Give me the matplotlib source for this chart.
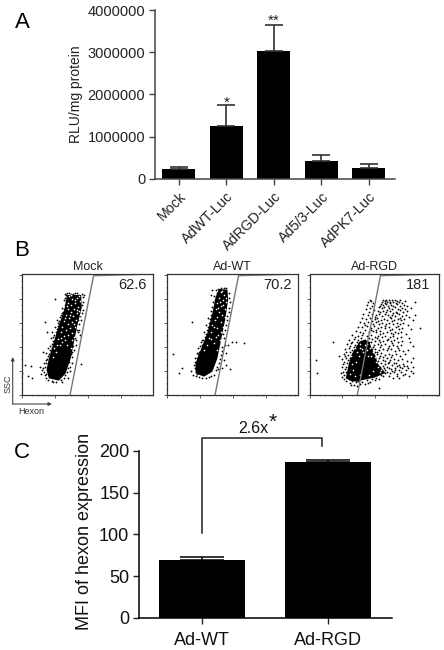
import numpy as np
from matplotlib import pyplot as plt

plt.rcParams["font.family"] = ["Liberation Sans", "DejaVu Sans"]

W, H = 444, 650

# panel A
a_labels = ["Mock", "AdWT-Luc", "AdRGD-Luc", "Ad5/3-Luc", "AdPK7-Luc"]
a_values = [230000, 1240000, 3030000, 410000, 265000]
a_err = [50000, 510000, 620000, 160000, 75000]
a_yticks = [0, 1000000, 2000000, 3000000, 4000000]

# panel C
c_labels = ["Ad-WT", "Ad-RGD"]
c_values = [69, 186]
c_err = [3.5, 2.5]
c_yticks = [0, 50, 100, 150, 200]

# panel B, channel units
b_titles = ["Mock", "Ad-WT", "Ad-RGD"]
b_numbers = ["62.6", "70.2", "181"]
gate_x = [143, 213, 390]
gate_y = [0, 358, 363]

mock_core = [(80, 50), (110, 43), (130, 65), (145, 110), (155, 160), (165, 210), (178, 262), (176, 300),
             (134, 300), (126, 255), (110, 210), (95, 160), (80, 110), (73, 75)]
mock_dots = [(10, 90), (28, 87), (1, 65), (17, 57), (31, 50), (177, 94), (67, 218), (98, 287), (138, 52), (75, 188),
             (62, 128), (68, 60), (60, 75), (55, 85), (65, 95), (72, 125), (78, 140), (85, 170), (90, 190), (98, 205),
             (105, 225), (115, 240), (120, 262), (125, 285), (128, 303), (140, 305), (152, 304), (165, 305), (178, 303),
             (183, 280), (182, 255), (175, 225), (170, 195), (162, 165), (155, 135), (150, 115), (142, 85), (135, 70),
             (125, 52), (118, 40), (100, 38), (88, 42), (70, 50), (66, 70), (70, 105), (76, 118), (84, 148), (92, 175),
             (100, 190), (108, 215), (118, 228), (122, 250), (128, 270), (186, 300), (172, 180), (160, 150), (148, 95),
             (69, 84), (72, 96), (75, 108), (71, 62), (77, 46), (84, 134), (88, 152), (91, 163), (96, 180), (103, 197),
             (106, 208), (111, 222), (113, 233), (119, 245), (124, 258), (127, 292), (131, 281), (130, 300), (135, 307),
             (146, 302), (158, 306), (171, 301), (181, 294), (180, 270), (179, 246), (173, 236), (169, 214), (166, 188),
             (158, 172), (152, 148), (149, 128), (140, 98), (137, 82), (128, 60), (116, 44), (92, 40), (64, 82), (58, 62),
             (80, 122), (88, 140), (83, 92), (163, 196), (168, 224), (142, 72), (145, 122)]
mock_gaps = [(140, 296), (150, 288), (163, 292), (172, 283), (138, 276), (147, 270), (158, 276), (168, 264), (136, 258),
             (146, 250), (155, 258), (165, 245), (172, 240), (130, 240), (140, 232), (152, 236), (160, 224), (126, 222),
             (136, 214), (148, 218), (158, 205), (120, 205), (130, 196), (142, 200), (150, 186), (115, 188), (124, 178),
             (138, 180), (148, 165), (108, 168), (118, 160), (134, 150), (105, 150), (145, 140), (100, 130), (92, 115),
             (145, 299), (157, 284), (169, 296), (133, 266), (163, 254), (143, 241), (170, 252), (128, 231), (154, 212),
             (115, 172), (129, 166), (154, 173), (112, 150), (96, 142)]

wt_core = [(85, 65), (110, 55), (135, 70), (150, 110), (160, 160), (173, 225), (182, 285), (180, 316),
           (155, 318), (145, 295), (135, 245), (120, 185), (100, 135), (85, 95)]
wt_dots = [(17, 123), (45, 80), (35, 65), (74, 218), (194, 158), (205, 159), (228, 155), (189, 78), (175, 90), (134, 315),
           (132, 300), (182, 150), (72, 73), (78, 60), (82, 80), (90, 110), (95, 130), (105, 150), (112, 175), (118, 195),
           (125, 215), (130, 240), (135, 265), (142, 285), (148, 305), (152, 318), (170, 320), (186, 305), (188, 280),
           (184, 250), (180, 225), (174, 195), (170, 170), (165, 145), (160, 120), (155, 95), (145, 75), (130, 58),
           (115, 50), (95, 55), (86, 58), (82, 100), (88, 125), (100, 160), (108, 165), (115, 210), (122, 230), (170, 105),
           (163, 80), (175, 125), (140, 60), (150, 85),
           (79, 90), (84, 112), (93, 140), (97, 148), (103, 165), (110, 188), (116, 182), (121, 205), (127, 228), (131, 252),
           (138, 278), (141, 298), (146, 315), (160, 321), (176, 322), (185, 292), (186, 262), (178, 238), (176, 210),
           (168, 182), (163, 132), (158, 108), (152, 78), (125, 55), (104, 52), (90, 62), (92, 122), (113, 160), (172, 150)]
wt_gaps = [(160, 308), (170, 300), (155, 292), (166, 285), (176, 278), (150, 275), (160, 268), (172, 258), (145, 258),
           (155, 250), (165, 240), (174, 235), (150, 235), (142, 225), (160, 218), (168, 205), (135, 210), (150, 200),
           (160, 190), (130, 190), (145, 175), (158, 165), (125, 170), (140, 155), (150, 135), (118, 150), (110, 135),
           (165, 312), (175, 292), (158, 280), (168, 271), (153, 262), (140, 203), (153, 180), (132, 168)]

rgd_core = [(108, 50), (125, 42), (140, 40), (165, 46), (195, 52), (228, 66), (214, 82), (204, 96), (198, 118), (188, 135),
            (180, 158), (165, 166), (150, 160), (135, 138), (124, 118), (116, 88)]
rgd_dots = [(17, 105), (20, 65), (70, 158), (87, 118),
            (180, 285), (184, 282), (222, 286), (230, 284), (238, 286), (247, 284), (256, 285), (262, 283), (271, 284),
            (176, 278), (190, 275), (218, 279), (226, 277), (233, 280), (241, 276), (252, 278), (259, 275), (268, 279), (279, 276), (288, 281), (316, 278),
            (172, 271), (186, 268), (214, 272), (221, 269), (229, 273), (236, 268), (244, 271), (250, 266), (263, 272), (273, 268), (283, 271), (292, 266),
            (182, 262), (168, 258), (209, 263), (217, 260), (225, 265), (239, 261), (247, 258), (256, 263), (266, 259), (277, 262), (286, 257), (305, 260),
            (178, 250), (192, 254), (205, 251), (213, 248), (222, 253), (231, 249), (243, 252), (252, 247), (260, 250), (271, 254), (281, 248), (294, 252), (318, 240),
            (160, 243), (174, 240), (188, 244), (200, 239), (209, 242), (218, 238), (227, 243), (236, 239), (248, 241), (258, 237), (268, 242), (279, 238), (289, 240), (300, 234),
            (156, 230), (168, 228), (182, 232), (195, 227), (204, 231), (214, 226), (223, 229), (234, 226), (245, 230), (254, 225), (265, 228), (275, 224), (285, 229), (312, 226),
            (150, 218), (163, 216), (176, 220), (190, 214), (199, 219), (210, 213), (219, 217), (230, 212), (240, 216), (252, 213), (262, 217), (272, 212), (282, 215), (296, 210),
            (146, 205), (158, 203), (171, 207), (184, 202), (194, 206), (205, 201), (215, 204), (226, 200), (238, 203), (249, 199), (259, 204), (270, 199), (279, 202), (305, 198),
            (140, 192), (152, 190), (165, 194), (178, 189), (189, 193), (200, 188), (211, 191), (222, 187), (233, 190), (245, 186), (256, 190), (266, 186), (276, 189), (291, 184), (332, 200),
            (128, 180), (146, 178), (158, 181), (172, 176), (184, 180), (195, 175), (206, 178), (217, 174), (228, 177), (241, 173), (252, 177), (263, 172), (274, 175), (298, 170),
            (118, 165), (132, 168), (144, 166), (186, 168), (198, 163), (210, 166), (221, 162), (232, 165), (244, 161), (255, 164), (267, 160), (278, 163), (302, 158),
            (112, 152), (124, 155), (136, 150), (194, 150), (205, 153), (216, 149), (228, 152), (240, 148), (251, 151), (262, 147), (274, 150), (310, 146),
            (105, 138), (118, 140), (128, 134), (198, 138), (209, 135), (220, 139), (232, 134), (245, 137), (256, 133), (268, 136), (280, 132), (296, 135),
            (102, 124), (114, 120), (204, 122), (215, 126), (226, 120), (238, 124), (249, 119), (260, 123), (272, 118), (288, 122), (312, 112),
            (98, 108), (108, 112), (208, 110), (220, 106), (232, 110), (243, 105), (255, 109), (266, 104), (278, 107), (292, 103), (306, 100),
            (100, 92), (106, 78), (214, 96), (226, 92), (237, 96), (248, 91), (259, 95), (270, 90), (281, 94), (294, 88), (310, 85),
            (100, 70), (104, 60), (224, 80), (234, 84), (245, 78), (256, 82), (268, 76), (279, 80), (290, 74), (304, 72),
            (102, 48), (98, 55), (232, 70), (242, 66), (253, 70), (264, 64), (275, 68), (286, 62), (300, 58), (312, 66),
            (110, 42), (120, 36), (132, 30), (150, 34), (165, 32), (180, 40), (195, 44), (208, 48), (220, 58), (238, 56), (252, 52), (270, 50), (208, 20),
            # second pass over the same cloud, thicker around the dense part
            (227, 281), (243, 279), (211, 266), (233, 256), (263, 246), (197, 235), (241, 234), (271, 232), (207, 222), (247, 221),
            (187, 221), (167, 209), (227, 208), (265, 207), (201, 196), (243, 195), (183, 195), (161, 186), (213, 184), (251, 183),
            (137, 174), (177, 171), (203, 170), (236, 169), (153, 170), (126, 160), (167, 165), (213, 158), (249, 156), (141, 158),
            (148, 155), (120, 147), (132, 143), (155, 163), (172, 161), (183, 158), (191, 144), (212, 143), (236, 142), (265, 142),
            (110, 130), (122, 128), (134, 128), (195, 130), (203, 128), (212, 118), (197, 112), (205, 102), (220, 114), (244, 113),
            (106, 118), (116, 105), (112, 95), (120, 112), (110, 84), (116, 70), (108, 68), (112, 58), (117, 48), (127, 42),
            (138, 38), (145, 42), (156, 40), (172, 44), (186, 48), (200, 52), (214, 60), (228, 65), (222, 88), (212, 84),
            (196, 98), (192, 110), (186, 138), (178, 160), (164, 160), (156, 150), (143, 142), (128, 118), (124, 102), (120, 80),
            (218, 76), (226, 74), (238, 82), (248, 72), (258, 74), (272, 84), (284, 86), (262, 88), (240, 100), (228, 102),
            (104, 100), (96, 84), (94, 66), (125, 30), (142, 26), (175, 36), (262, 56), (282, 60), (296, 80), (255, 96)]
rgd_gaps = [(125, 118), (135, 140), (150, 142), (165, 150), (180, 140), (195, 115), (205, 85), (215, 75), (130, 75), (120, 62),
            (142, 128), (172, 135), (160, 128), (185, 118), (150, 60), (190, 72), (178, 60), (138, 100),
            (152, 154), (172, 152), (190, 128), (158, 138), (148, 118), (176, 118), (200, 100), (212, 70), (128, 92), (135, 58)]

BOX = [(22, 153), (167, 298), (310, 439)]


def add_axes(left, right, top, bottom):
    return fig.add_axes([left / W, 1 - bottom / H, (right - left) / W, (bottom - top) / H])


def draw_dots(ax, core, dots, gaps, title, number):
    ax.fill(*zip(*core), color="black", lw=0)
    ax.scatter(*zip(*dots), s=1.7, color="black", lw=0)
    ax.scatter(*zip(*gaps), s=1.4, color="white", lw=0)
    ax.plot(gate_x, gate_y, color="#777777", lw=1.0)
    ax.plot(gate_x[1:], [gate_y[1] + 3, gate_y[2]], color="#999999", lw=0.8)
    ax.set_xlim(0, 390)
    ax.set_ylim(0, 363)
    ax.set_title(title, fontsize=9, pad=3, color="#222222")
    ax.text(0.84, 0.905, number, transform=ax.transAxes, ha="center", va="center", fontsize=10.5, color="#222222")
    ax.set_xticks(np.arange(0, 391, 98))
    ax.set_xticks([t + 98 * np.log10(m) for t in [0, 98, 196, 294] for m in range(2, 10)], minor=True)
    ax.set_yticks(np.arange(0, 364, 72))
    ax.set_yticks(np.arange(0, 364, 18), minor=True)
    ax.set_xticklabels([])
    ax.set_yticklabels([])
    ax.tick_params(which="major", length=2, width=0.6, color="#444444")
    ax.tick_params(which="minor", length=1, width=0.5, color="#666666")
    for s in ax.spines.values():
        s.set_linewidth(0.9)
        s.set_color("#333333")


fig = plt.figure(figsize=(W / 100, H / 100), dpi=100)

# A
ax = add_axes(155, 395, 10, 178.7)
ax.bar(range(5), a_values, width=0.69, color="black")
ax.errorbar(range(5), a_values, yerr=[np.zeros(5), a_err], fmt="none", ecolor="#333333", elinewidth=1.2, capsize=6.3, capthick=1.2)
ax.set_xlim(-0.5, 4.55)
ax.set_ylim(0, 4000000)
ax.set_yticks(a_yticks)
ax.set_yticklabels([str(v) for v in a_yticks], fontsize=10.5, color="#222222")
ax.set_xticks(range(5))
ax.set_xticklabels(a_labels, fontsize=10.2, rotation=45, ha="right", rotation_mode="anchor", color="#222222")
ax.tick_params(length=4, width=1.0, color="#444444", pad=3)
ax.tick_params(axis="x", pad=4)
ax.set_ylabel("RLU/mg protein", fontsize=10, color="#222222", labelpad=3.5)
ax.spines[["top", "right"]].set_visible(False)
ax.spines[["left", "bottom"]].set_linewidth(1.1)
ax.spines[["left", "bottom"]].set_color("#444444")
ax.text(1, 1790000, "*", ha="center", va="center", fontsize=11, color="#222222")
ax.text(2, 3740000, "**", ha="center", va="center", fontsize=11, color="#222222")

# B
draw_dots(add_axes(BOX[0][0], BOX[0][1], 274, 395), mock_core, mock_dots, mock_gaps, b_titles[0], b_numbers[0])
draw_dots(add_axes(BOX[1][0], BOX[1][1], 274, 395), wt_core, wt_dots, wt_gaps, b_titles[1], b_numbers[1])
draw_dots(add_axes(BOX[2][0], BOX[2][1], 274, 395), rgd_core, rgd_dots, rgd_gaps, b_titles[2], b_numbers[2])

# C
ax = add_axes(139, 392, 450.7, 618)
ax.bar(range(2), c_values, width=0.675, color="black")
ax.errorbar(range(2), c_values, yerr=[[0, 0], c_err], fmt="none", ecolor="black", elinewidth=1.1, capsize=16, capthick=1.1)
ax.set_xlim(-0.5, 1.508)
ax.set_ylim(0, 200)
ax.set_yticks(c_yticks)
ax.set_yticklabels([str(v) for v in c_yticks], fontsize=13, color="#111111")
ax.set_xticks(range(2))
ax.set_xticklabels(c_labels, fontsize=13, color="#111111")
ax.tick_params(length=4, width=1.0, color="#222222", pad=3)
ax.tick_params(axis="x", pad=6)
ax.set_ylabel("MFI of hexon expression", fontsize=13, color="#111111", labelpad=4, y=0.52)
ax.spines[["top", "right"]].set_visible(False)
ax.spines[["left", "bottom"]].set_linewidth(1.1)
ax.plot([0, 0, 0.956, 0.956], [102, 215.5, 215.5, 205.5], color="#222222", lw=1.1, clip_on=False)
ax.text(0.405, 226, "2.6x", ha="center", va="center", fontsize=11.5, color="#111111")
ax.text(0.56, 234, "*", ha="center", va="center", fontsize=15, color="#111111")

# panel letters
for letter, x, y in [("A", 22, 22), ("B", 22, 250), ("C", 22, 453)]:
    fig.text(x / W, 1 - y / H, letter, ha="center", va="center", fontsize=16)

# SSC / Hexon arrows
ax_bg = fig.add_axes([0, 0, 1, 1], facecolor="none")
ax_bg.set_xlim(0, W)
ax_bg.set_ylim(H, 0)
ax_bg.axis("off")
for end in [(12.7, 357), (52, 404)]:
    ax_bg.annotate("", xy=end, xytext=(12.7, 404), arrowprops=dict(arrowstyle="-|>", lw=0.8, color="#444444", mutation_scale=5, shrinkA=0, shrinkB=0))
ax_bg.text(8, 384, "SSC", rotation=90, ha="center", va="center", fontsize=6.5, color="#333333")
ax_bg.text(31, 411.5, "Hexon", ha="center", va="center", fontsize=6.5, color="#333333")

plt.savefig("out.png", dpi=100)
